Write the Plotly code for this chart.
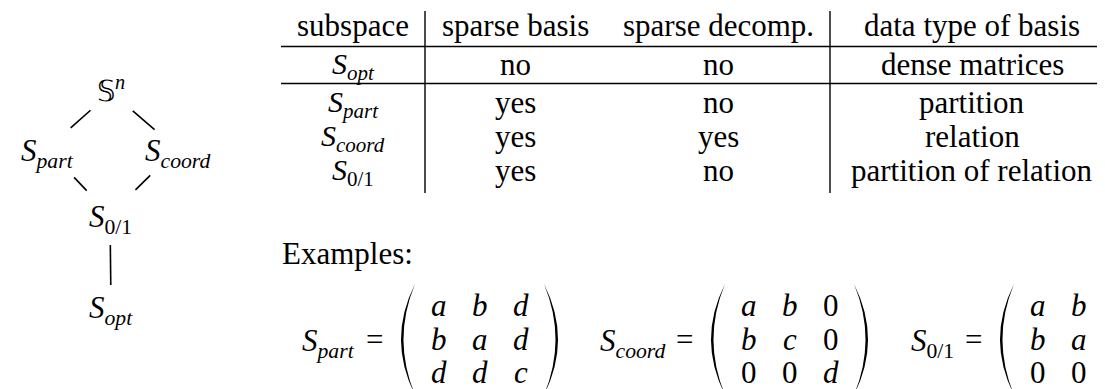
import plotly.graph_objects as go

# ---- data -------------------------------------------------------------
table_header = ["subspace", "sparse basis", "sparse decomp.", "data type of basis"]
subspaces = ["opt", "part", "coord", "0/1"]
sparse_basis = ["no", "yes", "yes", "yes"]
sparse_decomp = ["no", "no", "yes", "no"]
basis_type = ["dense matrices", "partition", "relation", "partition of relation"]

hasse_nodes = ["n", "part", "coord", "0/1", "opt"]
hasse_edges = [("n", "part"), ("n", "coord"), ("part", "0/1"), ("coord", "0/1"), ("0/1", "opt")]

example_names = ["part", "coord", "0/1"]
example_matrices = [
    [["a", "b", "d"], ["b", "a", "d"], ["d", "d", "c"]],
    [["a", "b", "0"], ["b", "c", "0"], ["0", "0", "d"]],
    [["a", "b", "0"], ["b", "a", "0"], ["0", "0", "c"]],
]

# ---- layout constants (pixels) -----------------------------------------
W, H = 1105, 389
FONT = "Liberation Serif, Times New Roman, serif"
FS = 31
col_x = [345, 507, 710, 964]
row_y = [17, 56, 94, 128, 162]
vlines_x = [417, 822]
hlines_y = [38.5, 75.5]

node_pos = {"n": (103, 84), "part": (39, 141), "coord": (169, 141), "0/1": (102, 207), "opt": (103, 298)}
edge_trim = {("n", "part"): (0.32, 0.63), ("n", "coord"): (0.33, 0.66),
             ("part", "0/1"): (0.43, 0.63), ("coord", "0/1"): (0.40, 0.62),
             ("0/1", "opt"): (0.33, 0.77)}

eq_x = [366, 676, 965]
mat_row_y = [297, 331, 364]
mat_col_dx = [65, 106, 147]
paren_top, paren_bot = 276, 387


def cal(sub):
    s = sub if sub == "0/1" else f"<i>{sub}</i>"
    return f"<i>S</i><sub>{s}</sub>"


def txt(fig, x, y, text, size=FS, xanchor="center"):
    fig.add_annotation(x=x, y=y, text=text, showarrow=False, xanchor=xanchor, yanchor="middle",
                       borderpad=0, font=dict(family=FONT, size=size, color="black"))


def paren(x_end, left=True):
    s = -1 if left else 1
    mid = (paren_top + paren_bot) / 2
    c_out = x_end + s * 28
    c_in = x_end + s * 23
    return (f"M {x_end} {paren_top} Q {c_out} {mid} {x_end} {paren_bot} "
            f"L {x_end} {paren_bot} Q {c_in} {mid} {x_end} {paren_top} Z")


fig = go.Figure()
fig.add_trace(go.Scatter(x=[0, W], y=[0, H], mode="markers", marker=dict(opacity=0), hoverinfo="skip"))

# table
for j, head in enumerate(table_header):
    txt(fig, col_x[j], row_y[0], head)
for i, sub in enumerate(subspaces):
    y = row_y[i + 1]
    txt(fig, col_x[0], y + 2, cal(sub), size=30)
    txt(fig, col_x[1], y, sparse_basis[i])
    txt(fig, col_x[2], y, sparse_decomp[i])
    txt(fig, col_x[3], y, basis_type[i])
for x in vlines_x:
    fig.add_shape(type="line", x0=x, x1=x, y0=3, y1=185, line=dict(color="black", width=1.4))
for y in hlines_y:
    fig.add_shape(type="line", x0=273, x1=W, y0=y, y1=y, line=dict(color="black", width=1.6))

# hasse diagram
for node in hasse_nodes:
    x, y = node_pos[node]
    if node == "n":
        txt(fig, x, y - 3, "𝕊<sup><i>n</i></sup>", size=29)
    else:
        txt(fig, x, y + 4, cal(node), size=FS)
for a, b in hasse_edges:
    (xa, ya), (xb, yb) = node_pos[a], node_pos[b]
    t0, t1 = edge_trim[(a, b)]
    fig.add_shape(type="line", x0=xa + t0 * (xb - xa), y0=ya + t0 * (yb - ya),
                  x1=xa + t1 * (xb - xa), y1=ya + t1 * (yb - ya), line=dict(color="black", width=1.6))

# examples
txt(fig, 273, 245, "Examples:", xanchor="left")
for k, name in enumerate(example_names):
    ex = eq_x[k]
    txt(fig, ex - 18, mat_row_y[1] + 4, cal(name), xanchor="right")
    txt(fig, ex, mat_row_y[1], "=")
    for r, row in enumerate(example_matrices[k]):
        for c, v in enumerate(row):
            if ex + mat_col_dx[c] < W:
                txt(fig, ex + mat_col_dx[c], mat_row_y[r], v if v.isdigit() else f"<i>{v}</i>")
    fig.add_shape(type="path", path=paren(ex + 41, True), fillcolor="black", line=dict(width=0))
    fig.add_shape(type="path", path=paren(ex + 170, False), fillcolor="black", line=dict(width=0))

fig.update_xaxes(range=[0, W], visible=False)
fig.update_yaxes(range=[H, 0], visible=False)
fig.update_layout(width=W, height=H, margin=dict(l=0, r=0, t=0, b=0), showlegend=False,
                  plot_bgcolor="white", paper_bgcolor="white")
fig.write_html("out.html")
